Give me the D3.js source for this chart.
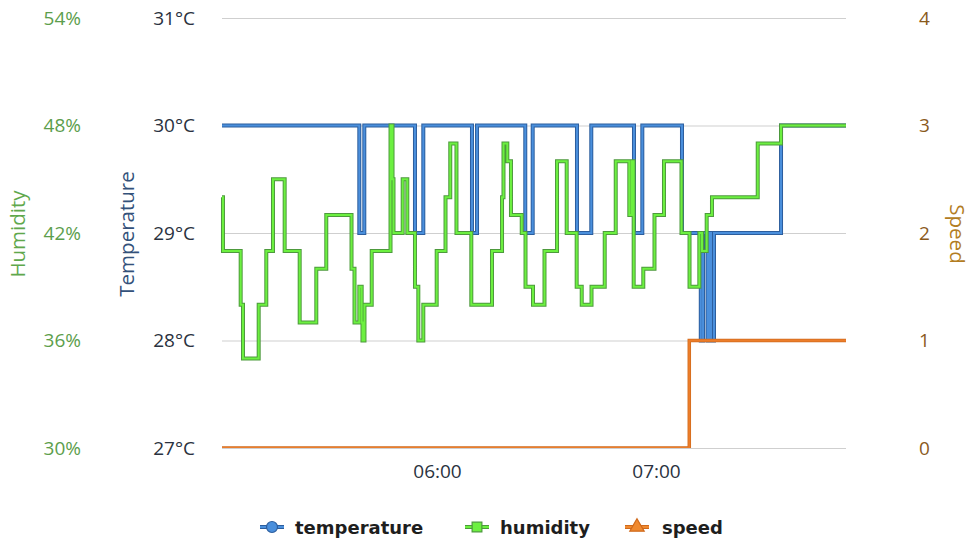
<!DOCTYPE html>
<html>
<head>
<meta charset="utf-8">
<script src="https://cdn.jsdelivr.net/npm/d3@7"></script>
<style>
  html, body { margin: 0; padding: 0; background: #fff; }
  svg { display: block; }
</style>
</head>
<body>
<svg id="chart" width="975" height="543"></svg>
<script>
// ---- data ----
const tempTimes = ["05:01:06","05:38:43","05:40:05","05:53:58","05:56:15","06:09:35","06:10:58","06:24:11","06:26:13","06:38:21","06:42:16","06:53:58","06:56:15","07:07:07","07:12:16","07:12:53","07:14:07","07:14:39","07:15:04","07:15:53","07:34:15","07:52:03"];
const tempValues = [30,29,30,29,30,29,30,29,30,29,30,29,30,29,28,29,28,29,28,29,30,30];

const humTimes = ["05:01:06","05:01:22","05:06:13","05:06:51","05:11:09","05:13:14","05:15:04","05:18:16","05:22:23","05:26:56","05:29:40","05:36:35","05:37:24","05:38:43","05:39:22","05:39:35","05:40:08","05:42:07","05:47:16","05:47:49","05:48:05","05:50:36","05:51:52","05:53:58","05:54:53","05:56:15","05:59:55","06:02:20","06:03:38","06:05:20","06:09:24","06:15:04","06:17:49","06:18:13","06:19:16","06:20:16","06:23:13","06:24:15","06:26:18","06:29:27","06:32:53","06:35:32","06:38:16","06:39:39","06:42:20","06:45:57","06:48:58","06:52:41","06:53:20","06:53:53","06:56:31","06:59:35","07:02:11","07:06:59","07:09:11","07:11:52","07:12:36","07:13:53","07:15:20","07:27:52","07:34:15","07:52:03"];
const humValues = [44,41,38,35,38,41,45,41,37,40,43,40,37,39,37,36,38,41,48,45,42,45,42,39,36,38,41,44,47,42,38,41,44,47,46,43,42,39,38,41,46,42,39,38,39,42,46,43,46,39,40,43,46,42,39,42,41,43,44,47,48,48];

const speedTimes = ["05:01:06","07:09:07","07:52:03"];
const speedValues = [0,1,1];

const tempTicks = [27,28,29,30,31];
const humTicks = [30,36,42,48,54];
const speedTicks = [0,1,2,3,4];
const xTickLabels = ["06:00","07:00"];
const seriesNames = ["temperature","humidity","speed"];

// ---- chart ----
const parse = d3.timeParse("%H:%M:%S");
const parseHM = d3.timeParse("%H:%M");
const svg = d3.select("#chart");

const L = 222, R = 846, T = 18, B = 448;
const x = d3.scaleTime().domain([parse("05:01:06"), parse("07:52:03")]).range([L, R]);
const yT = d3.scaleLinear().domain([27, 31]).range([B, T]);
const yH = d3.scaleLinear().domain([30, 54]).range([B, T]);
const yS = d3.scaleLinear().domain([0, 4]).range([B, T]);

const tickFont = "'Open Sans', sans-serif";

// grid
const grid = svg.append("g").attr("transform", `translate(${L},0)`)
  .call(d3.axisLeft(yT).tickValues(tempTicks).tickSize(-(R - L)).tickFormat(""));
grid.select(".domain").remove();
grid.selectAll("line").attr("stroke", "#cfcfcf").attr("stroke-width", 1);

function styleAxis(g, color) {
  g.select(".domain").remove();
  g.selectAll("line").remove();
  g.selectAll("text").attr("fill", color).style("font-family", tickFont).style("font-size", "19px");
}

// humidity axis (far left)
svg.append("g").attr("transform", "translate(86,0)")
  .call(d3.axisLeft(yH).tickValues(humTicks).tickSize(0).tickPadding(5).tickFormat(d => d + "%"))
  .call(g => styleAxis(g, "#5c9e4c"));

// temperature axis
svg.append("g").attr("transform", "translate(200,0)")
  .call(d3.axisLeft(yT).tickValues(tempTicks).tickSize(0).tickPadding(5).tickFormat(d => d + "°C"))
  .call(g => styleAxis(g, "#2a3240"));

// speed axis (right)
svg.append("g").attr("transform", "translate(914,0)")
  .call(d3.axisRight(yS).tickValues(speedTicks).tickSize(0).tickPadding(5).tickFormat(d => d))
  .call(g => styleAxis(g, "#8a5a1c"));

// x axis
svg.append("g").attr("transform", `translate(0,${B})`)
  .call(d3.axisBottom(x).tickValues(xTickLabels.map(s => parseHM(s))).tickSize(0).tickPadding(17).tickFormat(d3.timeFormat("%H:%M")))
  .call(g => styleAxis(g, "#2a3240"));

// axis titles
function title(txt, tx, ty, rot, color) {
  svg.append("text").attr("transform", `translate(${tx},${ty}) rotate(${rot})`)
    .attr("text-anchor", "middle").attr("dominant-baseline", "central")
    .attr("fill", color).style("font-family", tickFont).style("font-size", "20.5px").text(txt);
}
title("Humidity", 17, 234, -90, "#5fa84c");
title("Temperature", 126, 234, -90, "#33517a");
title("Speed", 958, 234, 90, "#b27c22");

// clip
svg.append("clipPath").attr("id", "plot").append("rect")
  .attr("x", L - 3).attr("y", T - 5).attr("width", R - L + 6).attr("height", B - T + 5);

const plot = svg.append("g").attr("clip-path", "url(#plot)");

function drawSeries(times, values, yScale, outer, inner, wOut, wIn) {
  const pts = times.map((t, i) => [x(parse(t)), yScale(values[i])]);
  const line = d3.line().curve(d3.curveStepAfter);
  plot.append("path").attr("d", line(pts)).attr("fill", "none")
    .attr("stroke", outer).attr("stroke-width", wOut).attr("stroke-linejoin", "miter");
  plot.append("path").attr("d", line(pts)).attr("fill", "none")
    .attr("stroke", inner).attr("stroke-width", wIn).attr("stroke-linejoin", "miter");
}
drawSeries(tempTimes, tempValues, yT, "#2c5e9e", "#4a8fdc", 4, 2);
drawSeries(humTimes, humValues, yH, "#4d9a3c", "#6cf040", 4, 2);
drawSeries(speedTimes, speedValues, yS, "#d06a1c", "#ec7d2a", 3.5, 2);

// legend
const leg = svg.append("g");
const legY = 527;
const legItems = [
  { name: seriesNames[0], x0: 260, tx: 295, outer: "#2c5e9e", inner: "#4a8fdc", sym: "circle" },
  { name: seriesNames[1], x0: 465, tx: 500, outer: "#4d9a3c", inner: "#6cf040", sym: "square" },
  { name: seriesNames[2], x0: 625, tx: 662, outer: "#d06a1c", inner: "#f08a30", sym: "triangle" }
];
legItems.forEach(it => {
  leg.append("line").attr("x1", it.x0).attr("x2", it.x0 + 24).attr("y1", legY).attr("y2", legY)
    .attr("stroke", it.outer).attr("stroke-width", 4);
  leg.append("line").attr("x1", it.x0).attr("x2", it.x0 + 24).attr("y1", legY).attr("y2", legY)
    .attr("stroke", it.inner).attr("stroke-width", 2);
  const cx = it.x0 + 12;
  const symType = it.sym === "circle" ? d3.symbolCircle : it.sym === "square" ? d3.symbolSquare : d3.symbolTriangle;
  leg.append("path").attr("d", d3.symbol().type(symType).size(it.sym === "triangle" ? 90 : 95)())
    .attr("transform", `translate(${cx},${legY})`)
    .attr("fill", it.inner).attr("stroke", it.outer).attr("stroke-width", 1.2);
  leg.append("text").attr("x", it.tx).attr("y", legY).attr("dominant-baseline", "central")
    .attr("fill", "#1e1e1e").style("font-family", "'DejaVu Sans', sans-serif").style("font-weight", "bold")
    .style("font-size", "18px").text(it.name);
});
</script>
</body>
</html>
